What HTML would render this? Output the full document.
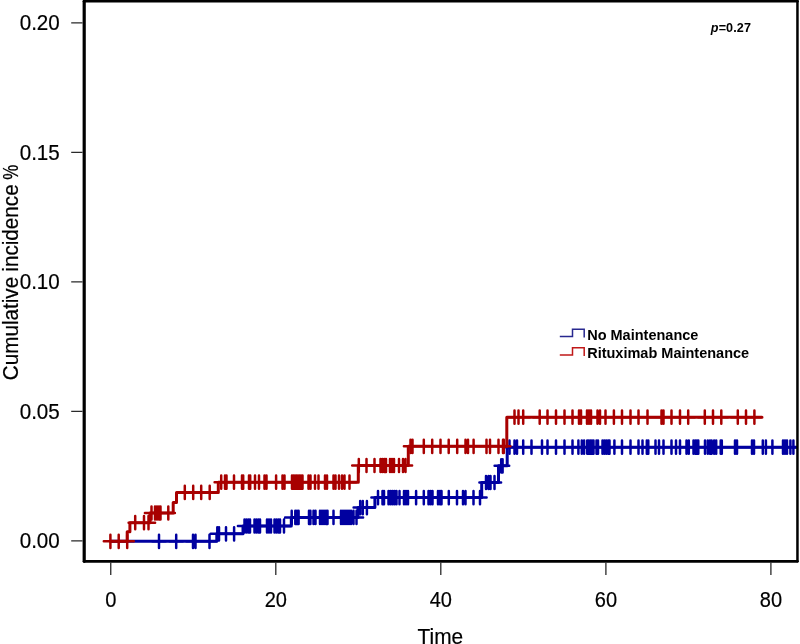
<!DOCTYPE html>
<html lang="en"><head><meta charset="utf-8"><title>Cumulative incidence</title>
<style>html,body{margin:0;padding:0;background:#fff}body{width:800px;height:644px;overflow:hidden}</style></head>
<body>
<svg width="800" height="644" viewBox="0 0 800 644" style="display:block">
<rect width="800" height="644" fill="#fff"/>
<clipPath id="c"><rect x="84.2" y="1.1" width="713.3" height="560.2"/></clipPath>
<g clip-path="url(#c)">
<path d="M110.75 541.3H216.8V533.8H243.0V526.0H291.3V517.4H358.0V507.6H374.9V497.6H481.7V482.5H498.5V465.8H507.2V447.2H796.5" fill="none" stroke="#0000a0" stroke-width="3" stroke-linejoin="round" stroke-linecap="round"/>
<path d="M159 534.7v13.2M152.4 541.3h13.2M176.2 534.7v13.2M169.6 541.3h13.2M193 534.7v13.2M186.4 541.3h13.2M195.5 534.7v13.2M188.9 541.3h13.2M209.5 534.7v13.2M202.9 541.3h13.2M217.3 527.2v13.2M210.7 533.8h13.2M219 527.2v13.2M212.4 533.8h13.2M226 527.2v13.2M219.4 533.8h13.2M234.1 527.2v13.2M227.5 533.8h13.2M244.5 519.4v13.2M237.9 526.0h13.2M246.5 519.4v13.2M239.9 526.0h13.2M248.5 519.4v13.2M241.9 526.0h13.2M250 519.4v13.2M243.4 526.0h13.2M254.5 519.4v13.2M247.9 526.0h13.2M256.5 519.4v13.2M249.9 526.0h13.2M258.5 519.4v13.2M251.9 526.0h13.2M260 519.4v13.2M253.4 526.0h13.2M267 519.4v13.2M260.4 526.0h13.2M269 519.4v13.2M262.4 526.0h13.2M271 519.4v13.2M264.4 526.0h13.2M274.5 519.4v13.2M267.9 526.0h13.2M276.5 519.4v13.2M269.9 526.0h13.2M278.5 519.4v13.2M271.9 526.0h13.2M280 519.4v13.2M273.4 526.0h13.2M284 519.4v13.2M277.4 526.0h13.2M291.7 510.8v13.2M285.1 517.4h13.2M295.3 510.8v13.2M288.7 517.4h13.2M297 510.8v13.2M290.4 517.4h13.2M298.6 510.8v13.2M292.0 517.4h13.2M309 510.8v13.2M302.4 517.4h13.2M310.4 510.8v13.2M303.8 517.4h13.2M313.5 510.8v13.2M306.9 517.4h13.2M315.5 510.8v13.2M308.9 517.4h13.2M320 510.8v13.2M313.4 517.4h13.2M322 510.8v13.2M315.4 517.4h13.2M324 510.8v13.2M317.4 517.4h13.2M326 510.8v13.2M319.4 517.4h13.2M327.5 510.8v13.2M320.9 517.4h13.2M333.5 510.8v13.2M326.9 517.4h13.2M341 510.8v13.2M334.4 517.4h13.2M343 510.8v13.2M336.4 517.4h13.2M345 510.8v13.2M338.4 517.4h13.2M347 510.8v13.2M340.4 517.4h13.2M349 510.8v13.2M342.4 517.4h13.2M351 510.8v13.2M344.4 517.4h13.2M353.5 510.8v13.2M346.9 517.4h13.2M356.5 510.8v13.2M349.9 517.4h13.2M360.2 501.0v13.2M353.6 507.6h13.2M362.8 501.0v13.2M356.2 507.6h13.2M366.9 501.0v13.2M360.3 507.6h13.2M378 491.0v13.2M371.4 497.6h13.2M382.5 491.0v13.2M375.9 497.6h13.2M384 491.0v13.2M377.4 497.6h13.2M388.5 491.0v13.2M381.9 497.6h13.2M390.5 491.0v13.2M383.9 497.6h13.2M392.5 491.0v13.2M385.9 497.6h13.2M394.5 491.0v13.2M387.9 497.6h13.2M396.5 491.0v13.2M389.9 497.6h13.2M399.5 491.0v13.2M392.9 497.6h13.2M404 491.0v13.2M397.4 497.6h13.2M406 491.0v13.2M399.4 497.6h13.2M408 491.0v13.2M401.4 497.6h13.2M416.1 491.0v13.2M409.5 497.6h13.2M423.8 491.0v13.2M417.2 497.6h13.2M428.5 491.0v13.2M421.9 497.6h13.2M430.5 491.0v13.2M423.9 497.6h13.2M432.5 491.0v13.2M425.9 497.6h13.2M438 491.0v13.2M431.4 497.6h13.2M440 491.0v13.2M433.4 497.6h13.2M441.5 491.0v13.2M434.9 497.6h13.2M448.8 491.0v13.2M442.2 497.6h13.2M457 491.0v13.2M450.4 497.6h13.2M463 491.0v13.2M456.4 497.6h13.2M465.5 491.0v13.2M458.9 497.6h13.2M473.5 491.0v13.2M466.9 497.6h13.2M480 491.0v13.2M473.4 497.6h13.2M486 475.9v13.2M479.4 482.5h13.2M488.5 475.9v13.2M481.9 482.5h13.2M490.5 475.9v13.2M483.9 482.5h13.2M494.5 475.9v13.2M487.9 482.5h13.2M501.2 459.2v13.2M494.6 465.8h13.2M502.6 459.2v13.2M496.0 465.8h13.2M509.5 440.6v13.2M502.9 447.2h13.2M514.5 440.6v13.2M507.9 447.2h13.2M517 440.6v13.2M510.4 447.2h13.2M523.2 440.6v13.2M516.6 447.2h13.2M531.5 440.6v13.2M524.9 447.2h13.2M542 440.6v13.2M535.4 447.2h13.2M547.5 440.6v13.2M540.9 447.2h13.2M556 440.6v13.2M549.4 447.2h13.2M564.5 440.6v13.2M557.9 447.2h13.2M572.5 440.6v13.2M565.9 447.2h13.2M578.4 440.6v13.2M571.8 447.2h13.2M581.8 440.6v13.2M575.2 447.2h13.2M584.1 440.6v13.2M577.5 447.2h13.2M587.2 440.6v13.2M580.6 447.2h13.2M588.8 440.6v13.2M582.2 447.2h13.2M590.5 440.6v13.2M583.9 447.2h13.2M592 440.6v13.2M585.4 447.2h13.2M593.5 440.6v13.2M586.9 447.2h13.2M596.5 440.6v13.2M589.9 447.2h13.2M598 440.6v13.2M591.4 447.2h13.2M602.5 440.6v13.2M595.9 447.2h13.2M604.5 440.6v13.2M597.9 447.2h13.2M606.5 440.6v13.2M599.9 447.2h13.2M608.5 440.6v13.2M601.9 447.2h13.2M609.5 440.6v13.2M602.9 447.2h13.2M614.4 440.6v13.2M607.8 447.2h13.2M622 440.6v13.2M615.4 447.2h13.2M630.5 440.6v13.2M623.9 447.2h13.2M638.5 440.6v13.2M631.9 447.2h13.2M642.5 440.6v13.2M635.9 447.2h13.2M646.8 440.6v13.2M640.2 447.2h13.2M648.3 440.6v13.2M641.7 447.2h13.2M655.5 440.6v13.2M648.9 447.2h13.2M659 440.6v13.2M652.4 447.2h13.2M663.5 440.6v13.2M656.9 447.2h13.2M671.5 440.6v13.2M664.9 447.2h13.2M676 440.6v13.2M669.4 447.2h13.2M680 440.6v13.2M673.4 447.2h13.2M686.5 440.6v13.2M679.9 447.2h13.2M688.8 440.6v13.2M682.2 447.2h13.2M693.5 440.6v13.2M686.9 447.2h13.2M695.5 440.6v13.2M688.9 447.2h13.2M697 440.6v13.2M690.4 447.2h13.2M698.3 440.6v13.2M691.7 447.2h13.2M705 440.6v13.2M698.4 447.2h13.2M707.8 440.6v13.2M701.2 447.2h13.2M710 440.6v13.2M703.4 447.2h13.2M711.6 440.6v13.2M705.0 447.2h13.2M714.1 440.6v13.2M707.5 447.2h13.2M716.2 440.6v13.2M709.6 447.2h13.2M720.7 440.6v13.2M714.1 447.2h13.2M721.8 440.6v13.2M715.2 447.2h13.2M735 440.6v13.2M728.4 447.2h13.2M737 440.6v13.2M730.4 447.2h13.2M752 440.6v13.2M745.4 447.2h13.2M754 440.6v13.2M747.4 447.2h13.2M762.8 440.6v13.2M756.2 447.2h13.2M765.9 440.6v13.2M759.3 447.2h13.2M772.4 440.6v13.2M765.8 447.2h13.2M783 440.6v13.2M776.4 447.2h13.2M785 440.6v13.2M778.4 447.2h13.2M787 440.6v13.2M780.4 447.2h13.2M790.4 440.6v13.2M783.8 447.2h13.2M793.4 440.6v13.2M786.8 447.2h13.2" fill="none" stroke="#0000a0" stroke-width="2.5" stroke-linecap="round"/>

<path d="M110.75 541.3H127.2V531.7H129.9V522.7H150.0V513.0H173.2V502.5H176.5V492.4H218.3V482.2H358.3V465.5H408.3V446.3H506.8V417.2H762.0" fill="none" stroke="#a80000" stroke-width="3" stroke-linejoin="round" stroke-linecap="round"/>
<path d="M110.4 534.7v13.2M103.8 541.3h13.2M118.7 534.7v13.2M112.1 541.3h13.2M127.2 534.7v13.2M120.6 541.3h13.2M135.2 516.1v13.2M128.6 522.7h13.2M144 516.1v13.2M137.4 522.7h13.2M148.5 516.1v13.2M141.9 522.7h13.2M151.5 506.4v13.2M144.9 513.0h13.2M155 506.4v13.2M148.4 513.0h13.2M157 506.4v13.2M150.4 513.0h13.2M159 506.4v13.2M152.4 513.0h13.2M160.5 506.4v13.2M153.9 513.0h13.2M168.3 506.4v13.2M161.7 513.0h13.2M184.8 485.8v13.2M178.2 492.4h13.2M193.2 485.8v13.2M186.6 492.4h13.2M201.2 485.8v13.2M194.6 492.4h13.2M209.7 485.8v13.2M203.1 492.4h13.2M221.2 475.6v13.2M214.6 482.2h13.2M225 475.6v13.2M218.4 482.2h13.2M226.5 475.6v13.2M219.9 482.2h13.2M234 475.6v13.2M227.4 482.2h13.2M242 475.6v13.2M235.4 482.2h13.2M243.2 475.6v13.2M236.6 482.2h13.2M249 475.6v13.2M242.4 482.2h13.2M250.2 475.6v13.2M243.6 482.2h13.2M255 475.6v13.2M248.4 482.2h13.2M259 475.6v13.2M252.4 482.2h13.2M264.5 475.6v13.2M257.9 482.2h13.2M266.5 475.6v13.2M259.9 482.2h13.2M276.1 475.6v13.2M269.5 482.2h13.2M282.5 475.6v13.2M275.9 482.2h13.2M284.5 475.6v13.2M277.9 482.2h13.2M292 475.6v13.2M285.4 482.2h13.2M293.5 475.6v13.2M286.9 482.2h13.2M295 475.6v13.2M288.4 482.2h13.2M296.5 475.6v13.2M289.9 482.2h13.2M298 475.6v13.2M291.4 482.2h13.2M299.5 475.6v13.2M292.9 482.2h13.2M301 475.6v13.2M294.4 482.2h13.2M302.5 475.6v13.2M295.9 482.2h13.2M308.5 475.6v13.2M301.9 482.2h13.2M310.5 475.6v13.2M303.9 482.2h13.2M315 475.6v13.2M308.4 482.2h13.2M318.5 475.6v13.2M311.9 482.2h13.2M325 475.6v13.2M318.4 482.2h13.2M327 475.6v13.2M320.4 482.2h13.2M333.5 475.6v13.2M326.9 482.2h13.2M335.5 475.6v13.2M328.9 482.2h13.2M339 475.6v13.2M332.4 482.2h13.2M342 475.6v13.2M335.4 482.2h13.2M344.5 475.6v13.2M337.9 482.2h13.2M349.5 475.6v13.2M342.9 482.2h13.2M358.8 458.9v13.2M352.2 465.5h13.2M366.5 458.9v13.2M359.9 465.5h13.2M374.5 458.9v13.2M367.9 465.5h13.2M380.5 458.9v13.2M373.9 465.5h13.2M382.5 458.9v13.2M375.9 465.5h13.2M384.5 458.9v13.2M377.9 465.5h13.2M386 458.9v13.2M379.4 465.5h13.2M390 458.9v13.2M383.4 465.5h13.2M392 458.9v13.2M385.4 465.5h13.2M394 458.9v13.2M387.4 465.5h13.2M399 458.9v13.2M392.4 465.5h13.2M403 458.9v13.2M396.4 465.5h13.2M405.5 458.9v13.2M398.9 465.5h13.2M410.5 439.7v13.2M403.9 446.3h13.2M412.5 439.7v13.2M405.9 446.3h13.2M423.8 439.7v13.2M417.2 446.3h13.2M432.2 439.7v13.2M425.6 446.3h13.2M440.5 439.7v13.2M433.9 446.3h13.2M448.7 439.7v13.2M442.1 446.3h13.2M457.2 439.7v13.2M450.6 446.3h13.2M465.5 439.7v13.2M458.9 446.3h13.2M468 439.7v13.2M461.4 446.3h13.2M473.6 439.7v13.2M467.0 446.3h13.2M486.5 439.7v13.2M479.9 446.3h13.2M490 439.7v13.2M483.4 446.3h13.2M498.5 439.7v13.2M491.9 446.3h13.2M503 439.7v13.2M496.4 446.3h13.2M503.8 439.7v13.2M497.2 446.3h13.2M514.5 410.6v13.2M507.9 417.2h13.2M518.5 410.6v13.2M511.9 417.2h13.2M523.2 410.6v13.2M516.6 417.2h13.2M539.7 410.6v13.2M533.1 417.2h13.2M547.5 410.6v13.2M540.9 417.2h13.2M556 410.6v13.2M549.4 417.2h13.2M564.5 410.6v13.2M557.9 417.2h13.2M572.5 410.6v13.2M565.9 417.2h13.2M579 410.6v13.2M572.4 417.2h13.2M581 410.6v13.2M574.4 417.2h13.2M587 410.6v13.2M580.4 417.2h13.2M589 410.6v13.2M582.4 417.2h13.2M591 410.6v13.2M584.4 417.2h13.2M597.5 410.6v13.2M590.9 417.2h13.2M600 410.6v13.2M593.4 417.2h13.2M605.5 410.6v13.2M598.9 417.2h13.2M613.9 410.6v13.2M607.3 417.2h13.2M622 410.6v13.2M615.4 417.2h13.2M630.5 410.6v13.2M623.9 417.2h13.2M638.5 410.6v13.2M631.9 417.2h13.2M647.5 410.6v13.2M640.9 417.2h13.2M661.5 410.6v13.2M654.9 417.2h13.2M663.5 410.6v13.2M656.9 417.2h13.2M671.5 410.6v13.2M664.9 417.2h13.2M680 410.6v13.2M673.4 417.2h13.2M688.2 410.6v13.2M681.6 417.2h13.2M704.8 410.6v13.2M698.2 417.2h13.2M713 410.6v13.2M706.4 417.2h13.2M721.3 410.6v13.2M714.7 417.2h13.2M737.8 410.6v13.2M731.2 417.2h13.2M746 410.6v13.2M739.4 417.2h13.2M754.4 410.6v13.2M747.8 417.2h13.2" fill="none" stroke="#a80000" stroke-width="2.5" stroke-linecap="round"/>

</g>
<g stroke="#000" fill="none" stroke-linecap="round"><path d="M84.2 1.3V561.3" stroke-width="3.2"/><path d="M797.45 1.3V561.3" stroke-width="2.5"/><path d="M84.2 1.2H797.45" stroke-width="2.8"/><path d="M84.2 561.3H797.45" stroke-width="2.7"/></g>
<path d="M110.75 562.6V574.9M275.8 562.6V574.9M440.8 562.6V574.9M605.9 562.6V574.9M770.9 562.6V574.9M71.2 540.8H82.6M71.2 411.3H82.6M71.2 281.8H82.6M71.2 152.3H82.6M71.2 22.8H82.6" stroke="#2a2a2a" stroke-width="1.3" fill="none"/>
<g font-family="'Liberation Sans', sans-serif" font-size="21" fill="#000" stroke="#000" stroke-width="0.2">
<text x="110.75" y="606.6" text-anchor="middle" font-size="22.3" textLength="11.2" lengthAdjust="spacingAndGlyphs">0</text>
<text x="275.8" y="606.6" text-anchor="middle" font-size="22.3" textLength="22.3" lengthAdjust="spacingAndGlyphs">20</text>
<text x="440.8" y="606.6" text-anchor="middle" font-size="22.3" textLength="22.3" lengthAdjust="spacingAndGlyphs">40</text>
<text x="605.9" y="606.6" text-anchor="middle" font-size="22.3" textLength="22.3" lengthAdjust="spacingAndGlyphs">60</text>
<text x="770.9" y="606.6" text-anchor="middle" font-size="22.3" textLength="22.3" lengthAdjust="spacingAndGlyphs">80</text>
<text x="59.8" y="548.4" text-anchor="end" font-size="22.3" textLength="40.1" lengthAdjust="spacingAndGlyphs">0.00</text>
<text x="59.8" y="418.9" text-anchor="end" font-size="22.3" textLength="40.1" lengthAdjust="spacingAndGlyphs">0.05</text>
<text x="59.8" y="289.4" text-anchor="end" font-size="22.3" textLength="40.1" lengthAdjust="spacingAndGlyphs">0.10</text>
<text x="59.8" y="159.9" text-anchor="end" font-size="22.3" textLength="40.1" lengthAdjust="spacingAndGlyphs">0.15</text>
<text x="59.8" y="30.4" text-anchor="end" font-size="22.3" textLength="40.1" lengthAdjust="spacingAndGlyphs">0.20</text>
<text x="440.4" y="644" text-anchor="middle" font-size="22.3" textLength="45.6" lengthAdjust="spacingAndGlyphs">Time</text>
<text transform="translate(17.7,380.2) rotate(-90)" font-size="22.3" textLength="103.4" lengthAdjust="spacingAndGlyphs">Cumulative</text>
<text transform="translate(17.7,271.7) rotate(-90)" font-size="22.3" textLength="87.4" lengthAdjust="spacingAndGlyphs">incidence</text>
<text transform="translate(17.7,179.8) rotate(-90)" font-size="22.3" textLength="15" lengthAdjust="spacingAndGlyphs">%</text>
</g>
<g font-family="'Liberation Sans', sans-serif" font-weight="bold" fill="#000">
<text x="710.8" y="32.3" font-size="12.6" letter-spacing="0.12"><tspan font-style="italic">p</tspan>=0.27</text>
<text x="587.2" y="339.7" font-size="14.5">No Maintenance</text>
<text x="587.2" y="358.0" font-size="14.5">Rituximab Maintenance</text>
</g>
<path d="M559.8 336.5H572.5V329.3H584.2V337.6" fill="none" stroke="#28288f" stroke-width="1.5"/>
<path d="M559.8 354.9H572.5V347.7H584.2V356" fill="none" stroke="#c01818" stroke-width="1.5"/>
</svg>
</body></html>
